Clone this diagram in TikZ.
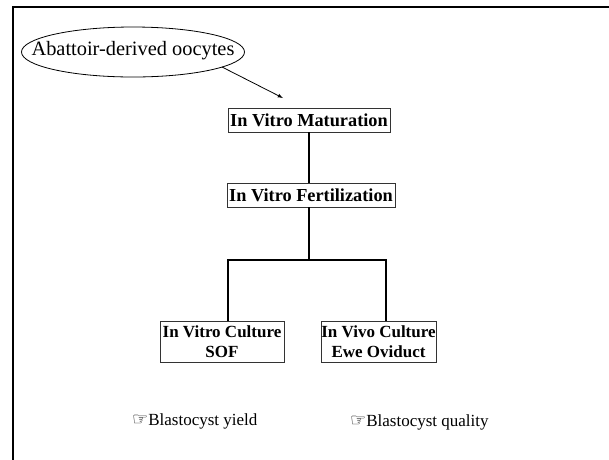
\documentclass[tikz,border=0pt]{standalone}
\usepackage{fontspec}
\setmainfont{Liberation Serif}
\newfontfamily\symfont{DejaVu Sans}
\newcommand\myhand{{\symfont\fontsize{18}{18}\selectfont ☞}}
\usetikzlibrary{shapes.geometric}
\begin{document}
\begin{tikzpicture}[x=1pt,y=-1pt,
  stagebox/.style={draw=black!80,line width=0.8pt,font=\fontsize{18.3}{19.5}\selectfont\bfseries,align=center,inner sep=0pt,fill=white},
  cultbox/.style={stagebox,font=\fontsize{17}{19.5}\selectfont\bfseries},
  conn/.style={line width=1.6pt},
  note/.style={font=\fontsize{17}{19}\selectfont,inner sep=0pt,anchor=west}]
\useasboundingbox (0,0) rectangle (609,459);
% frame
\draw[line width=2.5pt] (13,470) -- (13,7) -- (620,7);
% ellipse
\node[inner sep=0pt,font=\fontsize{20.4}{22}\selectfont] (src) at (133,51) {Abattoir-derived oocytes};
\draw[line width=0.8pt] (src.center) ++(0,1) ellipse [x radius=111.5pt, y radius=25pt];
\node[stagebox,minimum width=162pt,minimum height=24pt] (ivm) at (309,120) {In Vitro Maturation};
\node[stagebox,minimum width=168pt,minimum height=24pt] (ivf) at (311,195) {In Vitro Fertilization};
\node[cultbox,minimum width=124pt,minimum height=41pt] (ivc) at (222,341.5) {In Vitro Culture\\SOF};
\node[cultbox,minimum width=115pt,minimum height=41pt] (ivv) at (378.5,341.5) {In Vivo Culture\\Ewe Oviduct};
\coordinate (tail) at (222,67);
\coordinate (tip) at (283,98);
\draw[->,>=latex,line width=0.8pt] (tail) -- (tip);
\coordinate (split) at (309,260);
\coordinate (lft) at (228,260);
\coordinate (rgt) at (386,260);
\draw[conn] (ivm.south -| split) -- (ivf.north -| split);
\draw[conn] (ivf.south -| split) -- (split);
\draw[conn] (ivc.north -| lft) -- (lft) -- (rgt) -- (ivv.north -| rgt);
\node[note] (y1) at (132,421) {\myhand Blastocyst yield};
\node[note] (y2) at (350,422) {\myhand Blastocyst quality};
\end{tikzpicture}
\end{document}
